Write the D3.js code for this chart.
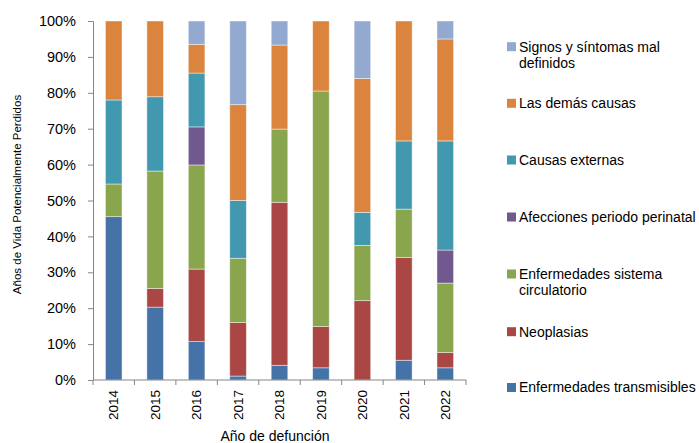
<!DOCTYPE html>
<html>
<head>
<meta charset="utf-8">
<script src="https://cdn.jsdelivr.net/npm/d3@7"></script>
<style>
  body { margin: 0; background: #fff; }
  svg { display: block; font-family: "Liberation Sans", Arial, sans-serif; }
</style>
</head>
<body>
<svg id="chart" width="699" height="443"></svg>
<script>
// ---- data ----
const years = ["2014", "2015", "2016", "2017", "2018", "2019", "2020", "2021", "2022"];
const transmisibles = [45.5, 20.3, 10.7, 1.1, 4.1, 3.4, 0.0, 5.5, 3.4];
const neoplasias    = [0.0, 5.2, 20.2, 14.9, 45.4, 11.5, 22.1, 28.6, 4.3];
const circulatorio  = [9.1, 32.7, 29.0, 17.9, 20.4, 65.6, 15.4, 13.5, 19.3];
const perinatal     = [0.0, 0.0, 10.6, 0.0, 0.0, 0.0, 0.0, 0.0, 9.2];
const externas      = [23.4, 20.7, 15.0, 16.1, 0.0, 0.0, 9.2, 19.0, 30.4];
const demas         = [22.0, 21.1, 8.0, 26.7, 23.4, 19.5, 37.3, 33.4, 28.4];
const signos        = [0.0, 0.0, 6.5, 23.3, 6.7, 0.0, 16.0, 0.0, 5.0];
const yTicks = [0, 10, 20, 30, 40, 50, 60, 70, 80, 90, 100];

const seriesNames = [
  ["Enfermedades transmisibles"],
  ["Neoplasias"],
  ["Enfermedades sistema", "circulatorio"],
  ["Afecciones periodo perinatal"],
  ["Causas externas"],
  ["Las demás causas"],
  ["Signos y síntomas mal", "definidos"]
];
const seriesValues = [transmisibles, neoplasias, circulatorio, perinatal, externas, demas, signos];
const colors = ["#4572A7", "#AA4643", "#89A54E", "#71588F", "#4198AF", "#DB843D", "#93A9CF"];

(function () {
// ---- build table ----
const keys = seriesNames.map(d => d.join(" "));
const table = years.map((yr, i) => {
  const row = { year: yr };
  keys.forEach((k, j) => { row[k] = seriesValues[j][i]; });
  return row;
});
const stacked = d3.stack().keys(keys)(table);

const svg = d3.select("#chart");
const mLeft = 93, mRight = 466, mTop = 21, mBottom = 380;

const x = d3.scaleBand().domain(years).range([mLeft, mRight]).paddingInner(0.6).paddingOuter(0.3);
const y = d3.scaleLinear().domain([0, 100]).range([mBottom, mTop]);
const axisColor = "#868686";

// bars
svg.append("g").selectAll("g").data(stacked).join("g")
  .attr("fill", (d, i) => colors[i])
  .selectAll("rect").data(d => d).join("rect")
  .attr("x", d => x(d.data.year))
  .attr("width", x.bandwidth())
  .attr("y", d => y(d[1]))
  .attr("height", d => Math.max(0, y(d[0]) - y(d[1])))
  .attr("stroke", "#ffffff")
  .attr("stroke-opacity", 0.55)
  .attr("stroke-width", 0.8);

// y axis
const yAxis = svg.append("g").attr("transform", `translate(${mLeft},0)`)
  .call(d3.axisLeft(y).tickValues(yTicks).tickFormat(d => d + "%").tickSize(5).tickPadding(12));
yAxis.select(".domain").attr("stroke", axisColor);
yAxis.selectAll(".tick line").attr("stroke", axisColor);
yAxis.selectAll("text").attr("font-size", "14.5px").attr("fill", "#000")
  .attr("font-family", "Liberation Sans, Arial, sans-serif");

// x axis
const xAxis = svg.append("g").attr("transform", `translate(0,${mBottom})`)
  .call(d3.axisBottom(x).tickSize(0).tickPadding(0));
xAxis.select(".domain").attr("stroke", axisColor).attr("d", `M${mLeft},0H${mRight}`);
xAxis.selectAll(".tick text")
  .attr("font-size", "13.5px").attr("fill", "#000")
  .attr("font-family", "Liberation Sans, Arial, sans-serif")
  .attr("transform", "rotate(-90)")
  .attr("text-anchor", "end")
  .attr("x", -10).attr("y", 0).attr("dy", "0.35em");
// boundary ticks
const step = x.step();
const bounds = d3.range(years.length + 1).map(i => x(years[0]) - step * x.paddingOuter() + i * step);
xAxis.selectAll("line.bound").data(bounds).join("line").attr("class", "bound")
  .attr("x1", d => d).attr("x2", d => d).attr("y1", 0).attr("y2", 5)
  .attr("stroke", axisColor);

// axis titles
svg.append("text").attr("x", 275).attr("y", 441)
  .attr("text-anchor", "middle").attr("font-size", "14px").attr("fill", "#000")
  .text("Año de defunción");
svg.append("text").attr("transform", `translate(21,${(mTop + mBottom) / 2 - 6}) rotate(-90)`)
  .attr("text-anchor", "middle").attr("font-size", "11.5px").attr("fill", "#000")
  .text("Años de Vida Potencialmente Perdidos");

// legend (top to bottom, reversed order)
const legendY = [46.7, 103.3, 160, 217, 274, 331.7, 387.5];
const legendOrder = d3.range(seriesNames.length).reverse();
const lg = svg.append("g");
legendOrder.forEach((si, k) => {
  const cy = legendY[k];
  lg.append("rect").attr("x", 507).attr("y", cy - 4.5).attr("width", 9).attr("height", 9)
    .attr("fill", colors[si]);
  const t = lg.append("text").attr("x", 519).attr("y", cy)
    .attr("font-size", "14px").attr("fill", "#000");
  seriesNames[si].forEach((line, li) => {
    t.append("tspan").attr("x", 519).attr("dy", li === 0 ? "0.35em" : "16px").text(line);
  });
});
})();
</script>
</body>
</html>
